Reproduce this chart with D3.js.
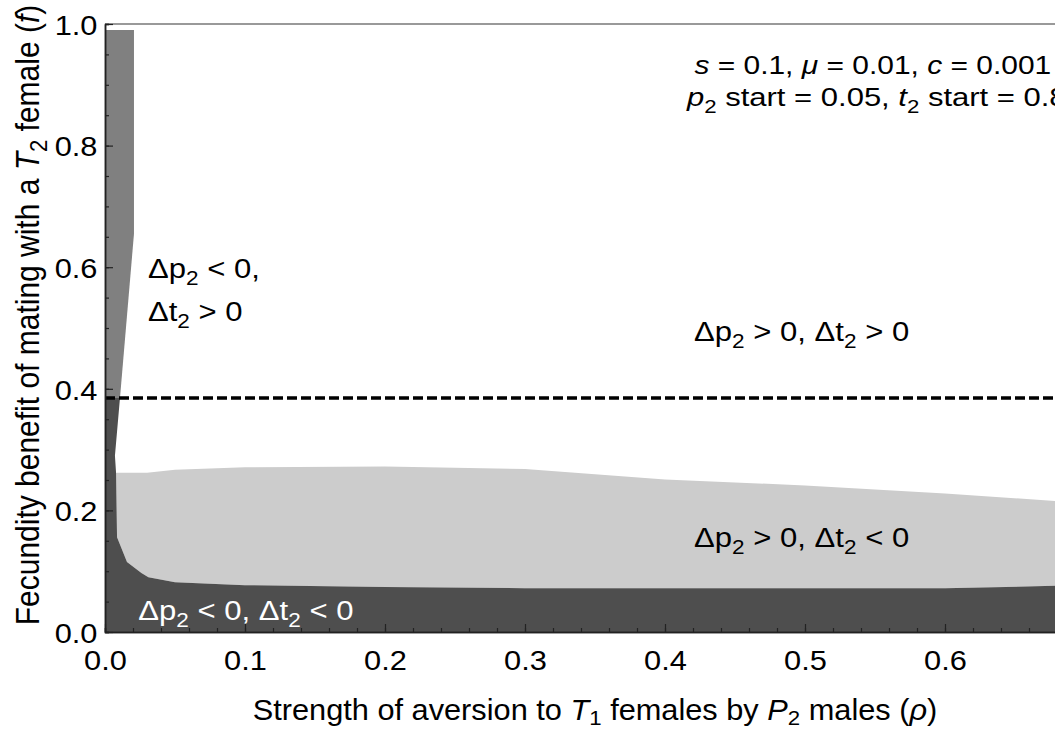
<!DOCTYPE html>
<html>
<head>
<meta charset="utf-8">
<script src="https://cdn.jsdelivr.net/npm/d3@7"></script>
<style>
  body { margin: 0; background: #fff; }
  svg { display: block; }
  text { font-family: "Liberation Sans", Arial, sans-serif; fill: #000; }
</style>
</head>
<body>
<div id="chart"></div>
<script>
// boundary between the p2-decreasing strip and the rest, read top to bottom
var leftEdge = [[0.0207, 0.99], [0.0207, 0.655], [0.0107, 0.385], [0.0071, 0.29],
                [0.0079, 0.262], [0.0086, 0.156], [0.0157, 0.115], [0.026, 0.097],
                [0.031, 0.090], [0.05, 0.082]];
// top of the dark (both negative) band
var darkTop = [[0.05, 0.082], [0.1, 0.077], [0.2, 0.074], [0.3, 0.072], [0.4, 0.072],
               [0.5, 0.072], [0.6, 0.072], [0.7, 0.077]];
// top of the light grey (dp2 > 0, dt2 < 0) band
var lightTop = [[0.0079, 0.262], [0.03, 0.262], [0.05, 0.267], [0.1, 0.271], [0.2, 0.272],
                [0.3, 0.268], [0.4, 0.251], [0.5, 0.241], [0.6, 0.228], [0.7, 0.212]];
var dashF = 0.385;
var xTicks = [0, 0.1, 0.2, 0.3, 0.4, 0.5, 0.6];
var yTicks = [0, 0.2, 0.4, 0.6, 0.8, 1.0];
var regionLabels = [
    {rho: 0.0307, f: 0.582, parts: [["Δp", "2", " < 0,"]], fill: "#000"},
    {rho: 0.0307, f: 0.512, parts: [["Δt", "2", " > 0"]], fill: "#000"},
    {rho: 0.4207, f: 0.479, parts: [["Δp", "2", " > 0, "], ["Δt", "2", " > 0"]], fill: "#000"},
    {rho: 0.4207, f: 0.140, parts: [["Δp", "2", " > 0, "], ["Δt", "2", " < 0"]], fill: "#000"},
    {rho: 0.0238, f: 0.020, parts: [["Δp", "2", " < 0, "], ["Δt", "2", " < 0"]], fill: "#fff"}
];

var width = 1055, height = 732,
    margins = {top: 24, left: 105, bottom: 100};

var x = d3.scaleLinear().domain([0, 0.7]).range([margins.left, 1085]);
var y = d3.scaleLinear().domain([0, 1]).range([height - margins.bottom, margins.top]);

var svg = d3.select("#chart").append("svg")
    .attr("width", width)
    .attr("height", height);

var line = d3.line()
    .x(function(d) { return x(d[0]); })
    .y(function(d) { return y(d[1]); });

// regions
var upperEdge = leftEdge.filter(function(d) { return d[1] >= dashF; });
var lowerEdge = leftEdge.filter(function(d) { return d[1] <= dashF; });
var lightEdge = leftEdge.filter(function(d) { return d[1] <= lightTop[0][1]; });
var xEnd = darkTop[darkTop.length - 1][0];

var midPoly = [[0, upperEdge[0][1]]].concat(upperEdge, [[0, dashF]]);
var darkPoly = [[0, dashF]].concat(lowerEdge, darkTop.slice(1), [[xEnd, 0], [0, 0]]);
var lightPoly = lightEdge.concat(darkTop.slice(1), lightTop.slice().reverse());

svg.append("path").attr("d", line(lightPoly) + "Z").attr("fill", "#cccccc");
svg.append("path").attr("d", line(darkPoly) + "Z").attr("fill", "#4e4e4e");
svg.append("path").attr("d", line(midPoly) + "Z").attr("fill", "#808080");

// frame top
svg.append("line")
    .attr("x1", x(0)).attr("x2", x(0.7))
    .attr("y1", y(1)).attr("y2", y(1))
    .attr("stroke", "#777").attr("stroke-width", 1.5);

// dashed threshold
svg.append("line")
    .attr("x1", x(0)).attr("x2", x(0.7))
    .attr("y1", y(dashF)).attr("y2", y(dashF))
    .attr("stroke", "#000").attr("stroke-width", 3.5)
    .attr("stroke-dasharray", "10,4");

// axes
var minorX = d3.range(0, 0.701, 0.02);
var minorY = d3.range(0, 1.001, 0.05);

svg.append("g").attr("class", "x minor")
    .attr("transform", "translate(0," + y(0) + ")")
    .call(d3.axisBottom(x).tickValues(minorX).tickSize(-4).tickFormat(""));
svg.append("g").attr("class", "y minor")
    .attr("transform", "translate(" + x(0) + ",0)")
    .call(d3.axisLeft(y).tickValues(minorY).tickSize(-4).tickFormat(""));

svg.append("g").attr("class", "x axis")
    .attr("transform", "translate(0," + y(0) + ")")
    .call(d3.axisBottom(x).tickValues(xTicks).tickSizeInner(-8).tickSizeOuter(0)
        .tickFormat(d3.format(".1f")));
svg.append("g").attr("class", "y axis")
    .attr("transform", "translate(" + x(0) + ",0)")
    .call(d3.axisLeft(y).tickValues(yTicks).tickSizeInner(-8).tickSizeOuter(0)
        .tickPadding(7).tickFormat(d3.format(".1f")));

svg.selectAll(".axis text")
    .style("font-size", "28.5px")
    .style("font-family", "Liberation Sans, Arial, sans-serif");
svg.selectAll(".x.axis text").attr("y", 38).attr("dy", 0)
    .attr("transform", "scale(1.08,1)");
svg.selectAll(".y.axis text").attr("dy", "0.36em")
    .attr("transform", "scale(1.08,1)");
svg.selectAll(".axis .domain, .minor .domain").attr("stroke", "#222").attr("stroke-width", 1.5);
svg.selectAll(".tick line").attr("stroke", "#222").attr("stroke-width", 1.2);

// text with subscripts, stretched a little sideways like the source figure
function stretched(px, py, size, sx) {
    return svg.append("text")
        .attr("transform", "translate(" + px + "," + py + ") scale(" + sx + ",1)")
        .style("font-size", size + "px");
}
function sub(t, s, size, drop) {
    t.append("tspan").text(s).style("font-size", Math.round(size * 0.72) + "px").attr("dy", drop || 7);
}
function unsub(t, s, drop) {
    return t.append("tspan").text(s).attr("dy", -(drop || 7));
}

regionLabels.forEach(function(d) {
    var t = stretched(x(d.rho), y(d.f), 27.5, 1.13).style("fill", d.fill);
    d.parts.forEach(function(p) {
        t.append("tspan").text(p[0]);
        sub(t, p[1], 27.5);
        unsub(t, p[2]);
    });
});

// parameter box
var p1 = stretched(x(0.421), y(0.918), 26.5, 1.13);
p1.append("tspan").text("s").style("font-style", "italic");
p1.append("tspan").text(" = 0.1, ");
p1.append("tspan").text("μ").style("font-style", "italic");
p1.append("tspan").text(" = 0.01, ");
p1.append("tspan").text("c").style("font-style", "italic");
p1.append("tspan").text(" = 0.001");

var p2 = stretched(x(0.4157), y(0.865), 26.5, 1.17);
p2.append("tspan").text("p").style("font-style", "italic");
sub(p2, "2", 26.5);
unsub(p2, " start = 0.05, ");
p2.append("tspan").text("t").style("font-style", "italic");
sub(p2, "2", 26.5);
unsub(p2, " start = 0.8");

// axis titles
var xt = stretched((x(0) + x(0.7)) / 2, 720, 29, 1.06).attr("text-anchor", "middle");
xt.append("tspan").text("Strength of aversion to ");
xt.append("tspan").text("T").style("font-style", "italic");
sub(xt, "1", 29, 5);
unsub(xt, " females by ", 5);
xt.append("tspan").text("P").style("font-style", "italic");
sub(xt, "2", 29, 5);
unsub(xt, " males (", 5);
xt.append("tspan").text("ρ").style("font-style", "italic");
xt.append("tspan").text(")");

var yt = svg.append("text")
    .attr("transform", "translate(39,315) scale(1.1,1) rotate(-90)")
    .attr("text-anchor", "middle")
    .style("font-size", "30px");
yt.append("tspan").text("Fecundity benefit of mating with a ");
yt.append("tspan").text("T").style("font-style", "italic");
sub(yt, "2", 30);
unsub(yt, " female (");
yt.append("tspan").text("f").style("font-style", "italic");
yt.append("tspan").text(")");
</script>
</body>
</html>
